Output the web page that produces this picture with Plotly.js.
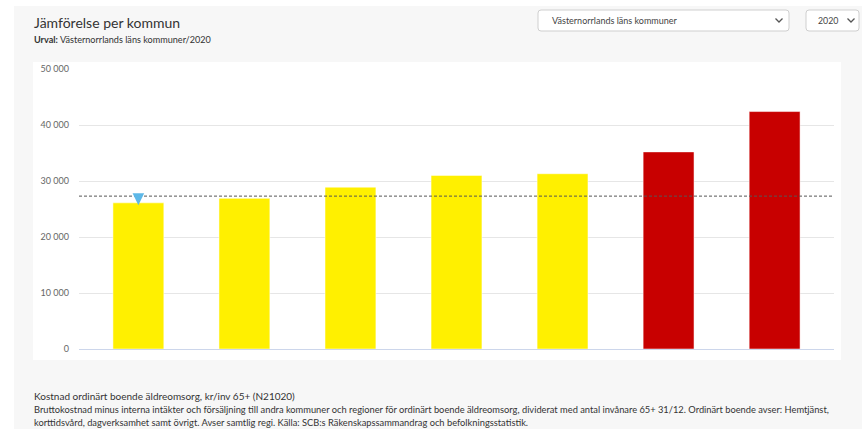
<!DOCTYPE html>
<html>
<head>
<meta charset="utf-8">
<script src="https://cdn.plot.ly/plotly-3.0.1.min.js"></script>
<style>html,body{margin:0;padding:0;background:#fff;}#chart{width:866px;height:429px;}</style>
</head>
<body>
<div id="chart"></div>
<script>
// ---- data ----
var categories = ["Kommun 1", "Kommun 2", "Kommun 3", "Kommun 4", "Kommun 5", "Kommun 6", "Kommun 7"];
var values = [26100, 26900, 28900, 31000, 31300, 35200, 42400];
var barStatus = ["mid", "mid", "mid", "mid", "mid", "high", "high"];
var averageValue = 27300;
var selectedIndex = 0;
var yTickValues = [0, 10000, 20000, 30000, 40000, 50000];
var yTickLabels = ["0", "10 000", "20 000", "30 000", "40 000", "50 000"];

var titleText = "Jämförelse per kommun";
var subtitleText = "<b>Urval:</b> Västernorrlands läns kommuner/2020";
var dropdownRegion = "Västernorrlands läns kommuner";
var dropdownYear = "2020";
var measureTitle = "Kostnad ordinärt boende äldreomsorg, kr/inv 65+ (N21020)";
var descLine1 = "Bruttokostnad minus interna intäkter och försäljning till andra kommuner och regioner för ordinärt boende äldreomsorg, dividerat med antal invånare 65+ 31/12. Ordinärt boende avser: Hemtjänst,";
var descLine2 = "korttidsvård, dagverksamhet samt övrigt. Avser samtlig regi. Källa: SCB:s Räkenskapssammandrag och befolkningsstatistik.";

// ---- styles ----
var statusColors = {mid: "#fff000", high: "#c80000"};
var FONT = "Lato, 'Open Sans', sans-serif";

// plot area in pixels
var L = 79, R = 834, T = 69, B = 349;
function px(x) { return (x - L) / (R - L); }
function py(y) { return (B - y) / (B - T); }
function roundRect(x0, y0, x1, y1, r) {
  var X0 = px(x0), X1 = px(x1), Y0 = py(y0), Y1 = py(y1);
  var rx = r / (R - L), ry = r / (B - T);
  return "M" + (X0 + rx) + "," + Y0 + " L" + (X1 - rx) + "," + Y0 +
    " Q" + X1 + "," + Y0 + " " + X1 + "," + (Y0 - ry) +
    " L" + X1 + "," + (Y1 + ry) + " Q" + X1 + "," + Y1 + " " + (X1 - rx) + "," + Y1 +
    " L" + (X0 + rx) + "," + Y1 + " Q" + X0 + "," + Y1 + " " + X0 + "," + (Y1 + ry) +
    " L" + X0 + "," + (Y0 - ry) + " Q" + X0 + "," + Y0 + " " + (X0 + rx) + "," + Y0 + " Z";
}
function chevron(cx, cy) {
  return "M" + px(cx - 3.5) + "," + py(cy - 2) + " L" + px(cx) + "," + py(cy + 1.5) + " L" + px(cx + 3.5) + "," + py(cy - 2);
}

var barTrace = {
  type: "bar",
  x: categories,
  y: values,
  width: 0.48,
  marker: {color: barStatus.map(function (s) { return statusColors[s]; }),
           line: {color: "rgba(255,255,255,0.5)", width: 1}},
  hoverinfo: "x+y",
  showlegend: false
};

var shapes = [
  {type: "rect", xref: "paper", yref: "paper", layer: "below", x0: px(14), x1: px(862), y0: py(440), y1: py(6),
   fillcolor: "#f7f7f7", line: {width: 0}},
  {type: "rect", xref: "paper", yref: "paper", layer: "below", x0: px(33), x1: px(841), y0: py(360), y1: py(62),
   fillcolor: "#ffffff", line: {width: 0}},
  {type: "path", xref: "paper", yref: "paper", layer: "below", path: roundRect(538, 10, 789, 31, 3),
   fillcolor: "#ffffff", line: {color: "#cfcfcf", width: 1}},
  {type: "path", xref: "paper", yref: "paper", layer: "below", path: roundRect(806, 10, 859, 31, 3),
   fillcolor: "#ffffff", line: {color: "#cfcfcf", width: 1}},
  {type: "path", xref: "paper", yref: "paper", path: chevron(779, 20.5), line: {color: "#555", width: 1.3}},
  {type: "path", xref: "paper", yref: "paper", path: chevron(851, 20.5), line: {color: "#555", width: 1.3}},
  {type: "line", xref: "paper", yref: "y", x0: 0, x1: 1, y0: averageValue, y1: averageValue,
   line: {color: "#555555", width: 1, dash: "3px,2px"}},
  // selected-kommun marker: pixel-sized triangle anchored at the selected bar's value
  {type: "path", xref: "x", yref: "y", xsizemode: "pixel", ysizemode: "pixel",
   xanchor: selectedIndex, yanchor: values[selectedIndex],
   path: "M-5.8,9.5 L5.8,9.5 L0,-2.5 Z", fillcolor: "#5db8e8", line: {width: 0}}
];

function ann(text, x, y, size, color) {
  return {text: text, xref: "paper", yref: "paper", x: px(x), y: py(y), xanchor: "left", yanchor: "middle",
    showarrow: false, font: {family: FONT, size: size, color: color}};
}
var annotations = [
  ann(titleText, 32, 23, 14, "#333333"),
  ann(subtitleText, 32, 40, 9.1, "#333333"),
  ann(dropdownRegion, 550, 20.5, 9, "#444444"),
  ann(dropdownYear, 816, 20.5, 8.8, "#444444"),
  ann(measureTitle, 32, 396, 10, "#333333"),
  ann(descLine1, 32, 409, 9.3, "#333333"),
  ann(descLine2, 32, 422, 9.3, "#333333")
];

var layout = {
  width: 866, height: 429,
  margin: {l: L, r: 866 - R, t: T, b: 429 - B, pad: 0},
  paper_bgcolor: "#ffffff",
  plot_bgcolor: "rgba(0,0,0,0)",
  separators: ", ",
  xaxis: {range: [-0.56, 6.56], showticklabels: false, showgrid: false, zeroline: false, showline: false,
          ticks: "", fixedrange: true},
  yaxis: {range: [0, 50000], tickvals: yTickValues, ticktext: yTickLabels, showgrid: true, gridcolor: "#e6e6e6",
          gridwidth: 1, zeroline: true, zerolinecolor: "#ccd6eb", zerolinewidth: 1, showline: false, ticks: "",
          ticklabelstandoff: 9, tickfont: {family: FONT, size: 9, color: "#666666"}, fixedrange: true},
  shapes: shapes,
  annotations: annotations,
  showlegend: false
};

Plotly.newPlot("chart", [barTrace], layout, {displayModeBar: false, staticPlot: true});
</script>
</body>
</html>
